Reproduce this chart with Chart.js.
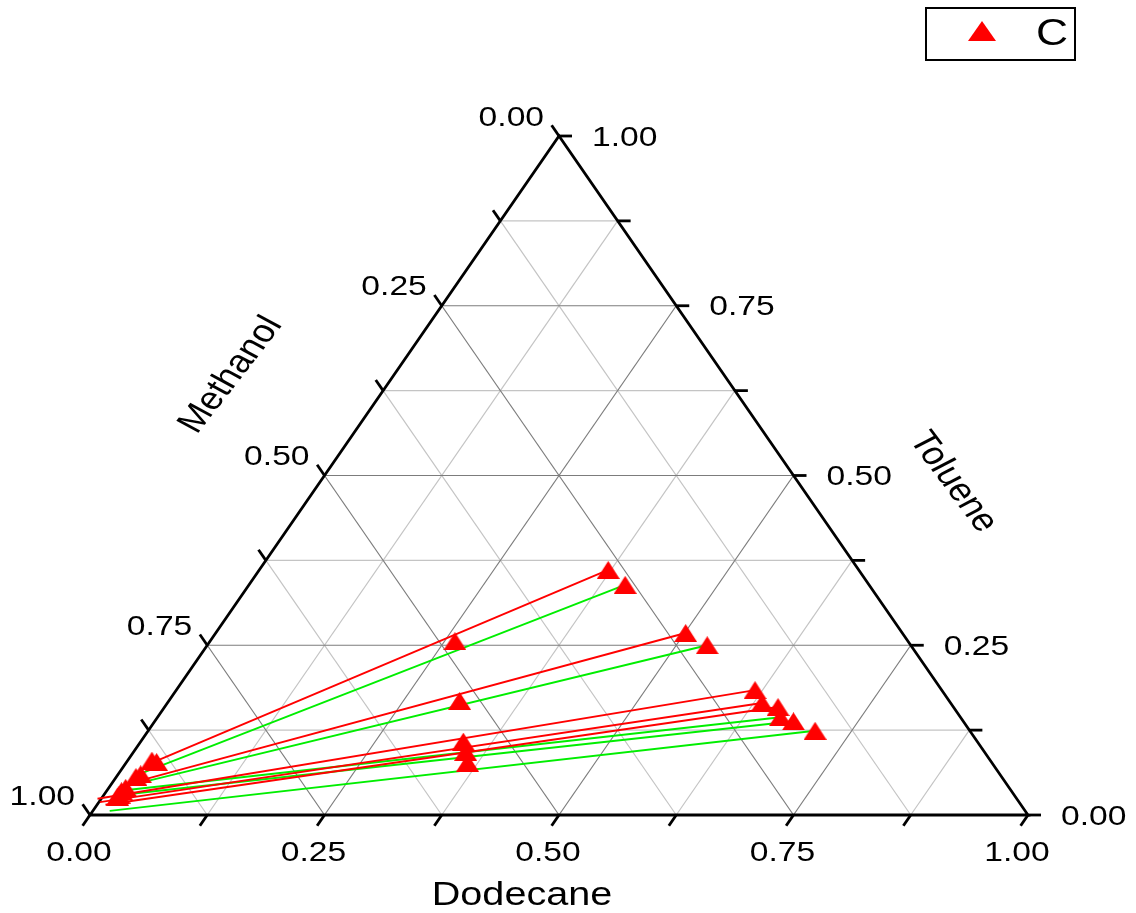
<!DOCTYPE html>
<html>
<head>
<meta charset="utf-8">
<script src="https://cdn.jsdelivr.net/npm/chart.js@4.4.0/dist/chart.umd.min.js"></script>
<style>
  html, body { margin: 0; padding: 0; background: #fff; }
</style>
</head>
<body>
<canvas id="ternary" width="1136" height="913"></canvas>
<script>
// compositions given as (dodecane, toluene) fractions, methanol = 1 - both
const tickValues = [0, 0.25, 0.5, 0.75, 1];
const tickLabels = ["0.00", "0.25", "0.50", "0.75", "1.00"];
const minorValues = [0.125, 0.375, 0.625, 0.875];

// measured points (series C): methanol-rich phase, feeds, dodecane-rich phase
const methPhaseDod = [0.026, 0.032, 0.024, 0.021, 0.018, 0.016, 0.016, 0.016];
const methPhaseTol = [0.080, 0.078, 0.060, 0.056, 0.040, 0.035, 0.030, 0.027];
const feedDod = [0.261, 0.310, 0.344, 0.354, 0.364];
const feedTol = [0.256, 0.168, 0.108, 0.093, 0.077];
const dodPhaseDod = [0.372, 0.401, 0.501, 0.533, 0.617, 0.634, 0.654, 0.664, 0.681, 0.711];
const dodPhaseTol = [0.361, 0.339, 0.268, 0.250, 0.184, 0.165, 0.159, 0.144, 0.138, 0.124];

// tie lines, red set
const redLeftDod  = [0.028, 0.011, -0.004, 0.001, 0.009];
const redLeftTol  = [0.077, 0.043, 0.024, 0.019, 0.015];
const redRightDod = [0.372, 0.501, 0.617, 0.634, 0.654];
const redRightTol = [0.361, 0.268, 0.184, 0.165, 0.159];

// tie lines, green set
const greenLeftDod  = [0.025, 0.021, 0.017, 0.015, 0.018];
const greenLeftTol  = [0.062, 0.044, 0.036, 0.029, 0.006];
const greenRightDod = [0.401, 0.533, 0.664, 0.681, 0.711];
const greenRightTol = [0.339, 0.250, 0.144, 0.138, 0.124];

const axisTitles = ["Dodecane", "Toluene", "Methanol"];
const seriesName = "C";

const FONT = "Liberation Sans, Arial, sans-serif";
const STRETCH = 1.2;

function toXY(d, t) {
  return { x: d + t / 2, y: t };
}

function makeTriangle(w, h, color) {
  const c = document.createElement("canvas");
  c.width = w;
  c.height = h;
  const g = c.getContext("2d");
  g.fillStyle = color;
  g.beginPath();
  g.moveTo(w / 2, 0);
  g.lineTo(w, h);
  g.lineTo(0, h);
  g.closePath();
  g.fill();
  return c;
}

const marker = makeTriangle(23, 18, "#ff0000");
const legendMarker = makeTriangle(28, 20, "#ff0000");

function tieLines(ld, lt, rd, rt, color) {
  return ld.map((d, i) => ({
    data: [toXY(d, lt[i]), toXY(rd[i], rt[i])],
    showLine: true,
    borderColor: color,
    borderWidth: 1.9,
    pointRadius: 0,
    clip: false,
  }));
}

const markerPoints = []
  .concat(methPhaseDod.map((d, i) => toXY(d, methPhaseTol[i])))
  .concat(feedDod.map((d, i) => toXY(d, feedTol[i])))
  .concat(dodPhaseDod.map((d, i) => toXY(d, dodPhaseTol[i])));

function stretchedText(ctx, text, x, y, align, angle, size) {
  ctx.save();
  ctx.translate(x, y);
  ctx.scale(STRETCH, 1);
  if (angle) ctx.rotate(angle);
  ctx.font = size + "px " + FONT;
  ctx.fillStyle = "#000";
  ctx.textAlign = align;
  ctx.textBaseline = "middle";
  ctx.fillText(text, 0, 0);
  ctx.restore();
}

const ternaryFrame = {
  id: "ternaryFrame",
  beforeDatasetsDraw(chart) {
    const ctx = chart.ctx;
    const xs = chart.scales.x;
    const ys = chart.scales.y;
    const px = (d, t) => ({ x: xs.getPixelForValue(d + t / 2), y: ys.getPixelForValue(t) });
    const seg = (a, b) => {
      ctx.beginPath();
      ctx.moveTo(a.x, a.y);
      ctx.lineTo(b.x, b.y);
      ctx.stroke();
    };
    const grid = (v) => {
      seg(px(0, v), px(1 - v, v));
      seg(px(v, 0), px(v, 1 - v));
      seg(px(1 - v, 0), px(0, 1 - v));
    };

    ctx.save();
    ctx.lineWidth = 1.2;
    ctx.strokeStyle = "#c4c4c4";
    minorValues.forEach(grid);
    ctx.strokeStyle = "#7c7c7c";
    tickValues.slice(1, -1).forEach(grid);

    // frame
    ctx.strokeStyle = "#000";
    ctx.lineWidth = 2.8;
    ctx.lineJoin = "miter";
    const a = px(0, 0), b = px(1, 0), c = px(0, 1);
    ctx.beginPath();
    ctx.moveTo(a.x, a.y);
    ctx.lineTo(b.x, b.y);
    ctx.lineTo(c.x, c.y);
    ctx.closePath();
    ctx.stroke();

    // ticks
    const W = b.x - a.x, H = a.y - c.y;
    const n = Math.hypot(W / 2, H);
    const len = 13;
    const ux = (W / 2) / n * len, uy = H / n * len;
    ctx.lineCap = "butt";
    tickValues.concat(minorValues).forEach((v) => {
      const pb = px(v, 0);
      seg(pb, { x: pb.x - ux, y: pb.y + uy });
      const pr = px(1 - v, v);
      seg(pr, { x: pr.x + len, y: pr.y });
      const pl = px(0, 1 - v);
      seg(pl, { x: pl.x - ux, y: pl.y - uy });
    });
    ctx.restore();
  },
  afterDatasetsDraw(chart) {
    const ctx = chart.ctx;
    const xs = chart.scales.x;
    const ys = chart.scales.y;
    const px = (d, t) => ({ x: xs.getPixelForValue(d + t / 2), y: ys.getPixelForValue(t) });

    tickValues.forEach((v, i) => {
      const pb = px(v, 0);
      stretchedText(ctx, tickLabels[i], pb.x - 11, pb.y + 38, "center", 0, 28);
      const pr = px(1 - v, v);
      stretchedText(ctx, tickLabels[i], pr.x + 33, pr.y + 2, "left", 0, 28);
      const pl = px(0, 1 - v);
      stretchedText(ctx, tickLabels[i], pl.x - 15, pl.y - 18, "right", 0, 28);
    });

    stretchedText(ctx, axisTitles[0], 522, 896, "center", 0, 33);
    stretchedText(ctx, axisTitles[1], 953, 482, "center", 58 * Math.PI / 180, 32);
    stretchedText(ctx, axisTitles[2], 231, 375, "center", -57 * Math.PI / 180, 32);

    // legend box
    ctx.save();
    ctx.strokeStyle = "#000";
    ctx.lineWidth = 2;
    ctx.strokeRect(926, 8, 149, 52);
    ctx.drawImage(legendMarker, 982 - 14, 32 - 11);
    ctx.restore();
    stretchedText(ctx, seriesName, 1052, 35, "center", 0, 37);
  },
};

const datasets = [
  {
    data: markerPoints,
    pointStyle: marker,
    pointRadius: 9,
    showLine: false,
    clip: false,
  },
]
  .concat(tieLines(redLeftDod, redLeftTol, redRightDod, redRightTol, "#ff0000"))
  .concat(tieLines(greenLeftDod, greenLeftTol, greenRightDod, greenRightTol, "#00ee00"));

new Chart(document.getElementById("ternary"), {
  type: "scatter",
  data: { datasets: datasets },
  options: {
    responsive: false,
    animation: false,
    devicePixelRatio: 1,
    layout: { padding: { left: 90, right: 108, top: 136, bottom: 98 } },
    scales: {
      x: { type: "linear", min: 0, max: 1, display: false },
      y: { type: "linear", min: 0, max: 1, display: false },
    },
    plugins: {
      legend: { display: false },
      tooltip: { enabled: false },
    },
  },
  plugins: [ternaryFrame],
});
</script>
</body>
</html>
